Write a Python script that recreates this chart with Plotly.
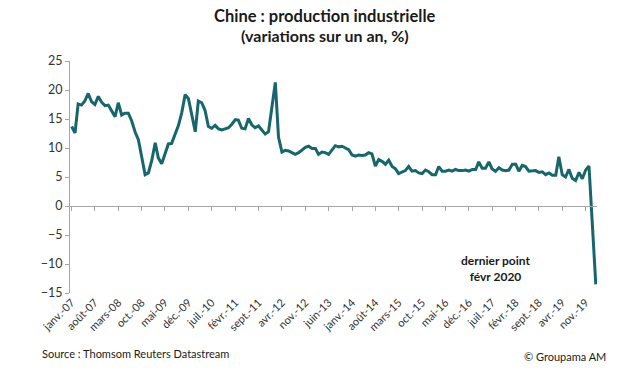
import pandas as pd
import plotly.graph_objects as go

# Monthly dates, Jan 2007 .. Feb 2020
months = pd.date_range("2007-01-01", "2020-02-01", freq="MS")

# China industrial production, % y/y
ip_2007 = [13.7, 12.6, 17.6, 17.4, 18.1, 19.4, 18.0, 17.5, 18.9, 17.9, 17.3, 17.4]
ip_2008 = [16.4, 15.4, 17.8, 15.7, 16.0, 16.0, 14.7, 12.8, 11.4, 8.2, 5.4, 5.7]
ip_2009 = [7.9, 10.9, 8.3, 7.3, 8.9, 10.7, 10.8, 12.3, 13.9, 16.1, 19.2, 18.5]
ip_2010 = [15.4, 12.8, 18.1, 17.8, 16.5, 13.7, 13.4, 13.9, 13.3, 13.1, 13.3, 13.5]
ip_2011 = [14.1, 14.9, 14.8, 13.4, 13.3, 15.1, 14.0, 13.5, 13.8, 13.2, 12.4, 12.8]
ip_2012 = [17.0, 21.3, 11.9, 9.3, 9.6, 9.5, 9.2, 8.9, 9.2, 9.6, 10.1, 10.3]
ip_2013 = [9.9, 9.9, 8.9, 9.3, 9.2, 8.9, 9.7, 10.4, 10.2, 10.3, 10.0, 9.7]
ip_2014 = [8.8, 8.6, 8.8, 8.7, 8.8, 9.2, 9.0, 6.9, 8.0, 7.7, 7.2, 7.9]
ip_2015 = [6.8, 6.4, 5.6, 5.9, 6.1, 6.8, 6.0, 6.1, 5.7, 5.6, 6.2, 5.9]
ip_2016 = [5.4, 5.4, 6.8, 6.0, 6.0, 6.2, 6.0, 6.3, 6.1, 6.1, 6.2, 6.0]
ip_2017 = [6.3, 6.3, 7.6, 6.5, 6.5, 7.6, 6.4, 6.0, 6.6, 6.2, 6.1, 6.2]
ip_2018 = [7.2, 7.2, 6.0, 7.0, 6.8, 6.0, 6.0, 6.1, 5.8, 5.9, 5.4, 5.7]
ip_2019 = [5.3, 5.3, 8.5, 5.4, 5.0, 6.3, 4.8, 4.4, 5.8, 4.7, 6.2, 6.9]
ip_2020 = [-3.3, -13.5]

values = (ip_2007 + ip_2008 + ip_2009 + ip_2010 + ip_2011 + ip_2012 + ip_2013
          + ip_2014 + ip_2015 + ip_2016 + ip_2017 + ip_2018 + ip_2019 + ip_2020)

# X tick labels (every 7 months from Jan 2007)
tick_dates = pd.date_range("2007-01-01", "2019-11-01", freq="7MS")
tick_labels = ["janv.-07", "août-07", "mars-08", "oct.-08", "mai-09", "déc.-09",
               "juil.-10", "févr.-11", "sept.-11", "avr.-12", "nov.-12", "juin-13",
               "janv.-14", "août-14", "mars-15", "oct.-15", "mai-16", "déc.-16",
               "juil.-17", "févr.-18", "sept.-18", "avr.-19", "nov.-19"]

y_ticks = [-15, -10, -5, 0, 5, 10, 15, 20, 25]

LINE = "#17666c"
FONT = "Lato"
xrange = ["2006-12-17", "2020-02-12"]

fig = go.Figure()
fig.add_trace(go.Scatter(x=months, y=values, mode="lines",
                         line=dict(color=LINE, width=3), showlegend=False,
                         hoverinfo="skip", xaxis="x", yaxis="y"))
fig.add_trace(go.Scatter(x=months, y=values, mode="lines",
                         line=dict(color="rgba(0,0,0,0)", width=0), showlegend=False,
                         hoverinfo="skip", xaxis="x2", yaxis="y"))

fig.update_layout(
    width=644, height=373,
    margin=dict(l=70, r=47, t=61, b=80),
    paper_bgcolor="white", plot_bgcolor="white",
    font=dict(family=FONT, size=12, color="#333333"),
    xaxis=dict(type="date", range=xrange, showgrid=False, showline=False,
               zeroline=False, ticks="", tickmode="array",
               tickvals=tick_dates, ticktext=tick_labels, tickangle=-45,
               tickfont=dict(size=11, color="#333333")),
    xaxis2=dict(type="date", range=xrange, overlaying="x", anchor="free",
                position=0.375, side="bottom", showgrid=False, showline=True,
                linecolor="#a6a6a6", linewidth=1, ticks="outside", ticklen=4,
                tickcolor="#a6a6a6", tickmode="array", tickvals=tick_dates,
                showticklabels=False, zeroline=False),
    yaxis=dict(range=[-15, 25], tickvals=y_ticks, showgrid=False, zeroline=False,
               showline=True, linecolor="#a6a6a6", linewidth=1, ticks="outside",
               ticklen=4, tickcolor="#a6a6a6", tickfont=dict(size=12.5, color="#333333")),
)

fig.add_annotation(text="<b>Chine : production industrielle</b>", xref="paper", yref="paper",
                   x=0.484, y=1.194, yanchor="middle", showarrow=False,
                   font=dict(size=16.5, color="#1a1a1a"))
fig.add_annotation(text="<b>(variations sur un an, %)</b>", xref="paper", yref="paper",
                   x=0.484, y=1.110, yanchor="middle", showarrow=False,
                   font=dict(size=16, color="#1a1a1a"))
fig.add_annotation(text="<b>dernier point</b><br><b>févr 2020</b>", xref="paper", yref="paper",
                   x=0.878, y=0.107, yanchor="middle", showarrow=False, align="center",
                   font=dict(size=12, color="#1a1a1a"))
fig.add_annotation(text="Source : Thomsom Reuters Datastream", xref="paper", yref="paper",
                   x=-0.057, y=-0.259, xanchor="left", yanchor="middle", showarrow=False,
                   font=dict(size=11, color="#1a1a1a"))
fig.add_annotation(text="© Groupama AM", xref="paper", yref="paper",
                   x=1.02, y=-0.272, xanchor="right", yanchor="middle", showarrow=False,
                   font=dict(size=11, color="#1a1a1a"))

# remove the browser's default 8px body margin so the figure fills the window
fig.write_html("out.html", config={"displayModeBar": False, "staticPlot": True},
               post_script="document.body.style.margin='0';document.body.style.overflow='hidden';")
